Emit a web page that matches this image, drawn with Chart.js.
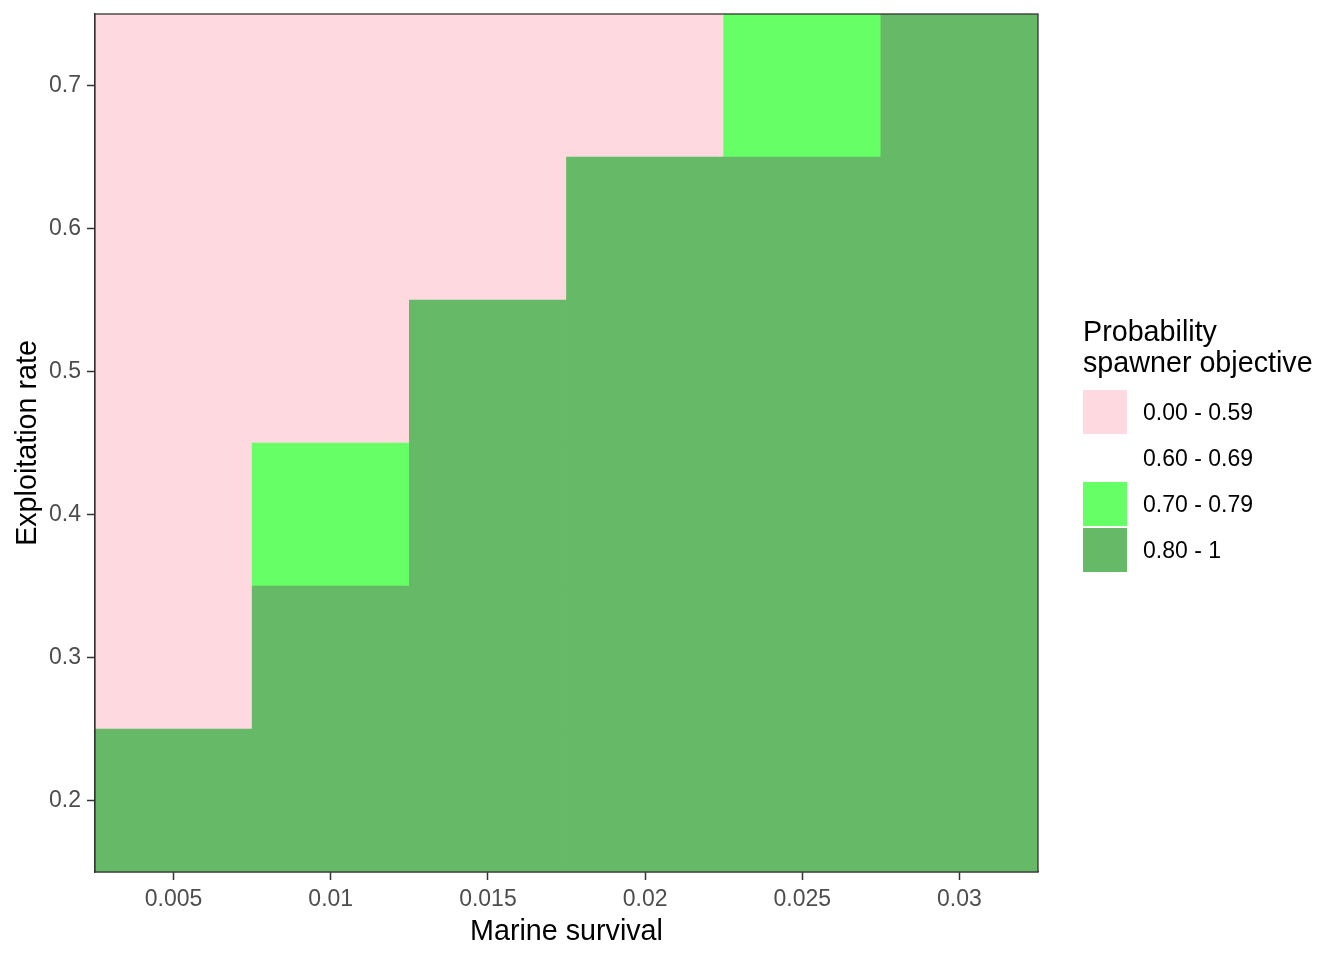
<!DOCTYPE html>
<html>
<head>
<meta charset="utf-8">
<script src="https://cdn.jsdelivr.net/npm/chart.js@4"></script>
<style>
  body { margin: 0; background: #fff; font-family: "Liberation Sans", Arial, sans-serif; }
  #wrap { position: relative; width: 1344px; height: 960px; }
  #legend { position: absolute; left: 1083px; top: 316px; color: #000; }
  #legend .title { font-size: 28.7px; line-height: 31px; margin-bottom: 12px; white-space: nowrap; }
  #legend .item { display: flex; align-items: center; height: 44px; margin-bottom: 2px; }
  #legend .key { width: 44px; height: 44px; margin-right: 16px; }
  #legend .lab { font-size: 23px; }
</style>
</head>
<body>
<div id="wrap">
  <canvas id="myChart" width="1344" height="960"></canvas>
  <div id="legend"></div>
</div>
<script>
// tile grid: marine survival (x) by exploitation rate (y)
var xLabels = ['0.005', '0.01', '0.015', '0.02', '0.025', '0.03'];
var yValues = [0.2, 0.3, 0.4, 0.5, 0.6, 0.7];

// probability class per cell, one row per exploitation rate, one entry per marine survival
// 0 = 0.00 - 0.59, 1 = 0.60 - 0.69, 2 = 0.70 - 0.79, 3 = 0.80 - 1
var row02 = [3, 3, 3, 3, 3, 3];
var row03 = [0, 3, 3, 3, 3, 3];
var row04 = [0, 2, 3, 3, 3, 3];
var row05 = [0, 0, 3, 3, 3, 3];
var row06 = [0, 0, 0, 3, 3, 3];
var row07 = [0, 0, 0, 0, 2, 3];
var rows = [row02, row03, row04, row05, row06, row07];

var classLabels = ['0.00 - 0.59', '0.60 - 0.69', '0.70 - 0.79', '0.80 - 1'];
var classColors = ['#FFD9E0', '#FFFFFF', '#66FF66', '#66B966'];

var halfStep = 0.05;

// one floating bar dataset per row of tiles
var datasets = yValues.map(function(y, i) {
  return {
    label: 'Exploitation ' + y,
    data: xLabels.map(function() { return [y - halfStep, y + halfStep]; }),
    backgroundColor: rows[i].map(function(c) { return classColors[c]; }),
    borderWidth: 0,
    barPercentage: 1,
    categoryPercentage: 1,
    grouped: false
  };
});

var panelBorder = {
  id: 'panelBorder',
  afterDatasetsDraw: function(chart) {
    var a = chart.chartArea, ctx = chart.ctx;
    ctx.save();
    ctx.strokeStyle = '#333333';
    ctx.lineWidth = 1.3;
    ctx.strokeRect(a.left, a.top, a.right - a.left, a.bottom - a.top);
    ctx.restore();
  }
};

var tickFont = { family: '"Liberation Sans", Arial, sans-serif', size: 23 };
var titleFont = { family: '"Liberation Sans", Arial, sans-serif', size: 28.7 };

var ctx = document.getElementById('myChart').getContext('2d');
var myChart = new Chart(ctx, {
  type: 'bar',
  data: { labels: xLabels, datasets: datasets },
  plugins: [panelBorder],
  options: {
    responsive: false,
    animation: false,
    layout: { padding: { top: 14, right: 306, left: 0, bottom: 0 } },
    plugins: { legend: { display: false }, tooltip: { enabled: false } },
    scales: {
      x: {
        type: 'category',
        offset: true,
        grid: { offset: false, drawOnChartArea: false, drawTicks: true, tickLength: 8, tickWidth: 1.5, tickColor: '#333333' },
        border: { display: true, color: '#333333', width: 1.3 },
        ticks: { color: '#4D4D4D', font: tickFont, padding: 6, maxRotation: 0 },
        title: { display: true, text: 'Marine survival', color: '#000', font: titleFont, padding: { top: 0, bottom: 11 } },
        afterFit: function(s) { s.height = 88; s.paddingLeft = 0; s.paddingRight = 0; }
      },
      y: {
        type: 'linear',
        min: 0.15,
        max: 0.75,
        afterBuildTicks: function(s) { s.ticks = yValues.map(function(v) { return { value: v }; }); },
        grid: { drawOnChartArea: false, drawTicks: true, tickLength: 8, tickWidth: 1.5, tickColor: '#333333' },
        border: { display: true, color: '#333333', width: 1.3 },
        ticks: { color: '#4D4D4D', font: tickFont, padding: 6, callback: function(v) { return String(Math.round(v * 10) / 10); } },
        title: { display: true, text: 'Exploitation rate', color: '#000', font: titleFont, padding: { top: 11, bottom: 0 } },
        afterFit: function(s) { s.width = 95; s.paddingTop = 0; s.paddingBottom = 0; }
      }
    }
  }
});

// legend built from the class arrays
var legend = document.getElementById('legend');
var html = '<div class="title">Probability<br>spawner objective</div>';
classLabels.forEach(function(lab, i) {
  html += '<div class="item"><div class="key" style="background:' + classColors[i] + '"></div><div class="lab">' + lab + '</div></div>';
});
legend.innerHTML = html;
</script>
</body>
</html>
